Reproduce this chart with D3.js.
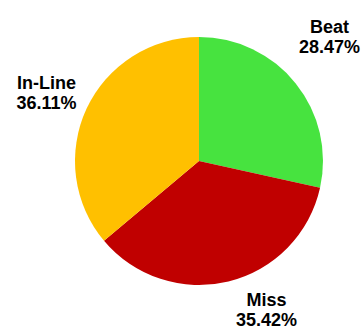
<!DOCTYPE html>
<html>
<head>
<meta charset="utf-8">
<script src="https://cdn.jsdelivr.net/npm/d3@7"></script>
<style>
  body { margin: 0; background: #fff; }
  svg { display: block; }
  .lbl { font-family: Arial, "Liberation Sans", sans-serif; font-weight: bold; font-size: 18px; fill: #000; }
</style>
</head>
<body>
<svg id="chart"></svg>
<script>
const categories = ['Beat', 'Miss', 'In-Line'];
const shares = [28.47, 35.42, 36.11];
const colors = ['#47e33f', '#c00000', '#ffc000'];

// label block offsets from pie centre (x = text centre, y = first baseline)
const labelOffsets = [[130.5, -128], [67.5, 145], [-152.5, -72]];

const width = 362, height = 330;
const cx = 199, cy = 161, radius = 124;

const svg = d3.select('#chart')
  .attr('width', width)
  .attr('height', height);

const g = svg.append('g')
  .attr('transform', `translate(${cx},${cy})`);

const data = categories.map((c, i) => ({name: c, value: shares[i], color: colors[i], off: labelOffsets[i]}));

const pie = d3.pie()
  .value(d => d.value)
  .sort(null);

const arc = d3.arc()
  .innerRadius(0)
  .outerRadius(radius);

g.selectAll('path')
  .data(pie(data))
  .enter()
  .append('path')
    .attr('d', arc)
    .attr('fill', d => d.data.color);

const labels = g.selectAll('text.lbl')
  .data(pie(data))
  .enter()
  .append('text')
    .attr('class', 'lbl')
    .attr('text-anchor', 'middle')
    .attr('transform', d => `translate(${d.data.off[0]},${d.data.off[1]})`);

labels.append('tspan')
  .attr('x', 0)
  .attr('y', 0)
  .text(d => d.data.name);

labels.append('tspan')
  .attr('x', 0)
  .attr('y', 20)
  .text(d => d.data.value.toFixed(2) + '%');
</script>
</body>
</html>
